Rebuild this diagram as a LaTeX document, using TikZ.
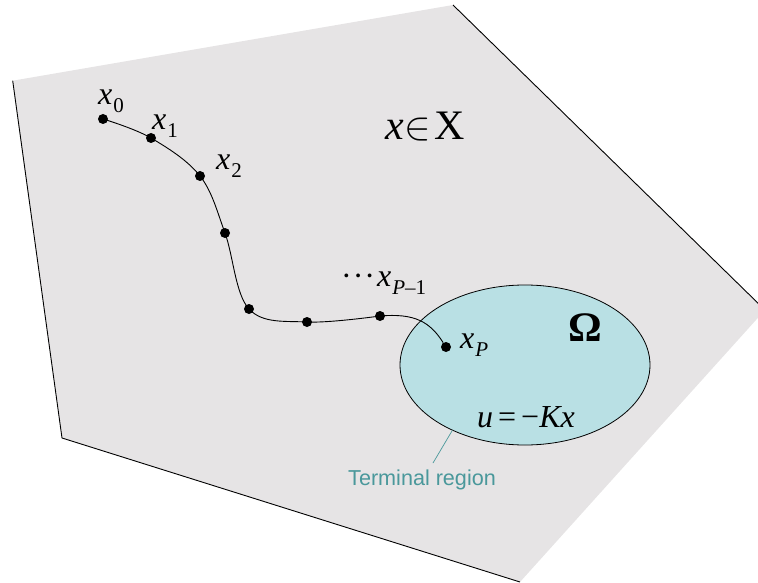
\documentclass[tikz,border=0pt]{standalone}
\usepackage{fontspec}
\usepackage{graphicx}
\setmainfont{Liberation Serif}
\newfontfamily\labelsans{Liberation Sans}
\usetikzlibrary{shapes.geometric}
\definecolor{planegray}{HTML}{E6E4E5}
\definecolor{regioncyan}{HTML}{B9E0E4}
\definecolor{tealtext}{HTML}{4A989B}
\newcommand{\xlab}[1]{\textit{x}\kern1pt\raisebox{-8pt}{\fontsize{21}{21}\selectfont #1}}
\begin{document}
\begin{tikzpicture}[x=1pt,y=-1pt,
  statedot/.style={circle,fill=black,inner sep=0pt,minimum size=10pt},
  lbl/.style={anchor=base west,inner sep=0pt,font=\fontsize{32}{36}\selectfont},
  edge/.style={line width=0.9pt}]
\useasboundingbox (0,0) rectangle (758,583);
% plane X
\coordinate (A) at (12.7,80.7);
\coordinate (B) at (453,5);
\coordinate (C) at (765,310);
\coordinate (D) at (520,582);
\coordinate (E) at (62,438);
\fill[planegray] (A) -- (B) -- (C) -- (D) -- (E) -- cycle;
\draw[edge] (A) -- (E) -- (D);
\draw[edge] (B) -- (C);
% terminal region
\node[draw,line width=0.8pt,ellipse,fill=regioncyan,minimum width=250pt,minimum height=160pt,inner sep=0pt] (omega) at (525,365) {};
% trajectory points
\node[statedot] (p0) at (103,119) {};
\node[statedot] (p1) at (151,138) {};
\node[statedot] (p2) at (200,176) {};
\node[statedot] (p3) at (225,233) {};
\node[statedot] (p4) at (249,309) {};
\node[statedot] (p5) at (307,322) {};
\node[statedot] (p6) at (380,316) {};
\node[statedot] (p7) at (446,347) {};
\draw[edge] plot[smooth,tension=0.6] coordinates {(p0) (p1) (p2) (p3) (p4) (p5) (p6)}
  .. controls (415,313) and (430,322) .. (p7);
% labels
\node[lbl] (l0) at (98,105) {\xlab{0}};
\node[lbl] (l1) at (152,130) {\xlab{1}};
\node[lbl] (l2) at (216,170) {\xlab{2}};
\node[lbl,font=\fontsize{42}{46}\selectfont] (space) at (385,140) {\textit{x}\kern1pt\raisebox{1pt}{\scalebox{1.6}{$\in$}}\kern3pt X};
\node[lbl] (lpm) at (341,286) {·\kern1pt·\kern1pt·\kern2pt\xlab{\textit{P}–1}};
\node[lbl] (lp) at (460,348) {\xlab{\textit{P}}};
\node[lbl,font=\bfseries\fontsize{42}{46}\selectfont] (om) at (568,341) {Ω};
\node[lbl] (ctrl) at (477,427) {\textit{u}\kern5pt=\kern5pt−\textit{Kx}};
\node[anchor=base west,inner sep=0pt,font=\labelsans\fontsize{21.6}{24}\selectfont,text=tealtext] (term) at (348,485) {Terminal region};
\coordinate (leadend) at (433,463);
\draw[tealtext,line width=0.7pt] (omega.222) -- (leadend);
\end{tikzpicture}
\end{document}
